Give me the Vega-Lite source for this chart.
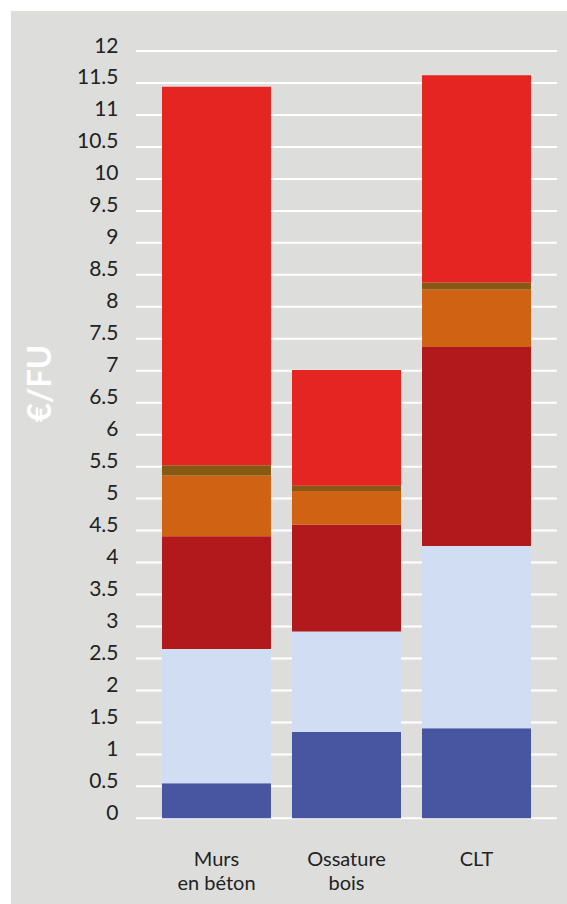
{
  "$schema": "https://vega.github.io/schema/vega-lite/v6.json",
  "width": 556,
  "height": 893,
  "autosize": "none",
  "padding": {"left": 11, "top": 11, "right": 0, "bottom": 0},
  "background": "white",
  "config": {
    "view": {"fill": "#dddedc", "stroke": null},
    "font": "Lato"
  },
  "datasets": {
    "bars": [
      {"cat": "Murs en béton", "comp": "A", "value": 0.55},
      {"cat": "Murs en béton", "comp": "B", "value": 2.10},
      {"cat": "Murs en béton", "comp": "C", "value": 1.76},
      {"cat": "Murs en béton", "comp": "D", "value": 0.95},
      {"cat": "Murs en béton", "comp": "E", "value": 0.16},
      {"cat": "Murs en béton", "comp": "F", "value": 5.92},
      {"cat": "Ossature bois", "comp": "A", "value": 1.35},
      {"cat": "Ossature bois", "comp": "B", "value": 1.57},
      {"cat": "Ossature bois", "comp": "C", "value": 1.67},
      {"cat": "Ossature bois", "comp": "D", "value": 0.53},
      {"cat": "Ossature bois", "comp": "E", "value": 0.08},
      {"cat": "Ossature bois", "comp": "F", "value": 1.81},
      {"cat": "CLT", "comp": "A", "value": 1.41},
      {"cat": "CLT", "comp": "B", "value": 2.85},
      {"cat": "CLT", "comp": "C", "value": 3.11},
      {"cat": "CLT", "comp": "D", "value": 0.90},
      {"cat": "CLT", "comp": "E", "value": 0.11},
      {"cat": "CLT", "comp": "F", "value": 3.24}
    ],
    "grid": [
      {"value": 0}, {"value": 0.5}, {"value": 1}, {"value": 1.5}, {"value": 2},
      {"value": 2.5}, {"value": 3}, {"value": 3.5}, {"value": 4}, {"value": 4.5},
      {"value": 5}, {"value": 5.5}, {"value": 6}, {"value": 6.5}, {"value": 7},
      {"value": 7.5}, {"value": 8}, {"value": 8.5}, {"value": 9}, {"value": 9.5},
      {"value": 10}, {"value": 10.5}, {"value": 11}, {"value": 11.5}, {"value": 12}
    ]
  },
  "encoding": {
    "x": {
      "field": "cat",
      "type": "nominal",
      "sort": ["Murs en béton", "Ossature bois", "CLT"],
      "scale": {"paddingInner": 0.1615, "paddingOuter": 0.719, "align": 0.8075},
      "axis": {
        "orient": "bottom",
        "offset": -86,
        "domain": false,
        "ticks": false,
        "tickSize": 0,
        "labelPadding": 47,
        "labelBaseline": "alphabetic",
        "labelAngle": 0,
        "labelFontSize": 20,
        "labelLineHeight": 24,
        "labelColor": "#222222",
        "title": null,
        "labelExpr": "datum.label == 'Murs en béton' ? ['Murs', 'en béton'] : datum.label == 'Ossature bois' ? ['Ossature', 'bois'] : datum.label"
      }
    },
    "y": {
      "field": "value",
      "type": "quantitative",
      "scale": {"domain": [-1.34, 12.626], "nice": false, "zero": false},
      "axis": {
        "orient": "left",
        "offset": -107,
        "values": [0, 0.5, 1, 1.5, 2, 2.5, 3, 3.5, 4, 4.5, 5, 5.5, 6, 6.5, 7, 7.5, 8, 8.5, 9, 9.5, 10, 10.5, 11, 11.5, 12],
        "format": "~g",
        "domain": false,
        "ticks": false,
        "tickSize": 0,
        "labelPadding": 0,
        "grid": false,
        "labelFontSize": 21,
        "labelColor": "#222222",
        "labelBaseline": "alphabetic",
        "labelOffset": 1,
        "title": "€/FU",
        "titleColor": "white",
        "titleFontSize": 33,
        "titleFontWeight": "bold",
        "titleAngle": -90,
        "titleX": -78,
        "titleY": 372,
        "titleAlign": "center",
        "titleBaseline": "middle"
      }
    }
  },
  "layer": [
    {
      "data": {"name": "grid"},
      "mark": {"type": "tick", "orient": "horizontal", "size": 421, "thickness": 2, "color": "white", "opacity": 1},
      "encoding": {
        "x": {"datum": "Ossature bois"}
      }
    },
    {
      "data": {"name": "bars"},
      "mark": {"type": "bar"},
      "encoding": {
        "color": {
          "field": "comp",
          "type": "nominal",
          "scale": {
            "domain": ["A", "B", "C", "D", "E", "F"],
            "range": ["#4855a0", "#d0ddf3", "#b2191d", "#d06214", "#875913", "#e42522"]
          },
          "legend": null
        },
        "order": {"field": "comp", "sort": "ascending"}
      }
    }
  ]
}
